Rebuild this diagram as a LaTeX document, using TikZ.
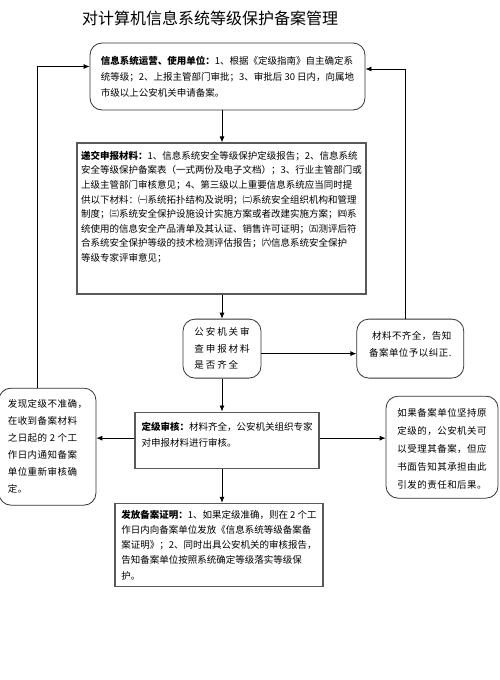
\documentclass[tikz,border=0pt]{standalone}
\usepackage{fontspec}
\setmainfont{Noto Sans CJK SC}
\newfontfamily\cjkwide[LetterSpace=20]{Noto Sans CJK SC}
\newfontfamily\cjkloose[LetterSpace=5]{Noto Sans CJK SC}
\usetikzlibrary{positioning,arrows.meta}
\tikzset{
  rbox/.style={draw=black!80, line width=0.8pt, rounded corners=12pt, align=left, inner sep=4pt},
  sbox/.style={draw=black!65, line width=1.3pt, align=left, inner sep=4pt},
  flow/.style={-{Latex[length=6pt,width=5pt]}, line width=0.8pt},
}

\begin{document}
\begin{tikzpicture}[x=1pt,y=1pt]
  \useasboundingbox (0,0) rectangle (500,-680);

  \node[rbox, minimum width=275pt, minimum height=67pt, font=\fontsize{9.5pt}{16pt}\selectfont] (U) at (227.5,-76.5) {\textbf{信息系统运营、使用单位：}1、根据《定级指南》自主确定系\\统等级；2、上报主管部门审批；3、审批后 30 日内，向属地\\市级以上公安机关申请备案。};
  \node[inner sep=0pt, font=\fontsize{16pt}{18pt}\selectfont, above=17pt of U, xshift=-17.5pt] (T) {对计算机信息系统等级保护备案管理};
  \node[sbox, minimum width=289pt, minimum height=151pt, font=\fontsize{9.5pt}{14.6pt}\selectfont, below=32pt of U, xshift=-6pt] (Sub) {\textbf{递交申报材料：}1、信息系统安全等级保护定级报告；2、信息系统\\安全等级保护备案表（一式两份及电子文档）；3、行业主管部门或\\上级主管部门审核意见；4、第三级以上重要信息系统应当同时提\\供以下材料：㈠系统拓扑结构及说明；㈡系统安全组织机构和管理\\制度；㈢系统安全保护设施设计实施方案或者改建实施方案；㈣系\\统使用的信息安全产品清单及其认证、销售许可证明；㈤测评后符\\合系统安全保护等级的技术检测评估报告；㈥信息系统安全保护\\等级专家评审意见；\\[10pt]\mbox{}};
  \node[rbox, minimum width=78pt, minimum height=59pt, font=\cjkwide\fontsize{9.5pt}{16.5pt}\selectfont, below=24pt of Sub, xshift=0.5pt] (Chk) {公安机关审\\查申报材料\\是否齐全};
  \node[rbox, minimum width=107pt, minimum height=59pt, font=\cjkloose\fontsize{9.5pt}{17pt}\selectfont, right=95pt of Chk] (Lack) {\hspace*{3pt}材料不齐全，告知\\备案单位予以纠正.\\[-7pt]\mbox{}};
  \node[sbox, minimum width=184pt, minimum height=56pt, font=\fontsize{9.5pt}{16pt}\selectfont, below=33pt of Chk, xshift=5pt] (Rev) {\textbf{定级审核：}材料齐全，公安机关组织专家\\对申报材料进行审核。\\[-5pt]\mbox{}};
  \node[sbox, minimum width=208pt, minimum height=83pt, font=\fontsize{9.5pt}{15.3pt}\selectfont, below=34pt of Rev, xshift=-8pt] (Iss) {\textbf{发放备案证明：}1、如果定级准确，则在 2 个工\\作日内向备案单位发放《信息系统等级备案备\\案证明》；2、同时出具公安机关的审核报告，\\告知备案单位按照系统确定等级落实等级保\\护。};
  \node[rbox, minimum width=97pt, minimum height=117pt, font=\cjkloose\fontsize{9.5pt}{17pt}\selectfont, left=38pt of Rev, yshift=-6.5pt] (Err) {发现定级不准确，\\在收到备案材料\\之日起的 2 个工\\作日内通知备案\\单位重新审核确\\定。};
  \node[rbox, minimum width=112pt, minimum height=102pt, font=\cjkloose\fontsize{9.5pt}{18pt}\selectfont, right=66pt of Rev, yshift=-7pt] (Ins) {\mbox{}\\[-6pt]如果备案单位坚持原\\定级的，公安机关可\\以受理其备案，但应\\书面告知其承担由此\\引发的责任和后果。};

  \draw[flow] (U.south -| Chk) -- (Sub.north -| Chk);
  \draw[flow] (Sub.south -| Chk) -- (Chk.north);
  \draw[flow] ([yshift=-5pt]Chk.east) -- ([yshift=-5pt]Chk.east -| Lack.west);
  \draw[flow] (Chk.south) -- (Chk.south |- Rev.north);
  \draw[flow] ([yshift=2pt]Rev.west) -- ([yshift=2pt]Rev.west -| Err.east);
  \draw[flow] ([yshift=2pt]Rev.east) -- ([yshift=2pt]Rev.east -| Ins.west);
  \draw[flow] (Rev.south -| Chk) -- (Iss.north -| Chk);
  \draw[flow] ([xshift=-10pt]Err.north) |- ([yshift=10pt]U.west);
  \draw[flow] ([xshift=-4.5pt]Lack.north) |- ([yshift=7.5pt]U.east);

\end{tikzpicture}
\end{document}
